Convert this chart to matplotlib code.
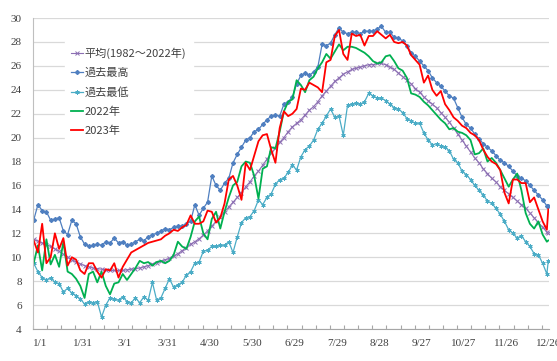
import matplotlib
matplotlib.use("Agg")
import matplotlib.pyplot as plt
from matplotlib.ticker import FixedLocator

# day index from 1/1 (every third day, plus the last day)
DAYS = list(range(0, 364, 3)) + [364]

AVG = [
    11.5, 11.35, 11.2, 11.05, 10.9, 10.7, 10.5, 10.25, 10.0, 9.8,
    9.6, 9.45, 9.3, 9.2, 9.1, 9.05, 9.0, 8.95, 8.9, 8.9,
    8.9, 8.9, 8.95, 9.0, 9.05, 9.1, 9.2, 9.3, 9.45, 9.55,
    9.65, 9.8, 9.9, 10.1, 10.3, 10.55, 10.8, 11.1, 11.3, 11.55,
    11.85, 12.2, 12.6, 13.0, 13.4, 13.8, 14.2, 14.6, 15.0, 15.4,
    15.9, 16.3, 16.8, 17.2, 17.7, 18.2, 18.7, 19.1, 19.6, 20.0,
    20.5, 20.9, 21.2, 21.5, 21.9, 22.3, 22.6, 23.0, 23.5, 23.9,
    24.3, 24.7, 25.0, 25.3, 25.5, 25.7, 25.8, 25.9, 26.0, 26.1,
    26.1, 26.2, 26.2, 26.1, 25.9, 25.7, 25.4, 25.1, 24.8, 24.5,
    24.1, 23.8, 23.4, 23.1, 22.8, 22.5, 22.1, 21.7, 21.3, 20.8,
    20.3, 19.8, 19.3, 18.8, 18.3, 17.9, 17.4, 17.0, 16.6, 16.3,
    15.9, 15.6, 15.3, 15.0, 14.7, 14.4, 14.1, 13.7, 13.3, 12.9,
    12.5, 12.1, 12.0,
]

MAX_PAST = [
    13.1, 14.4, 13.9, 13.8, 13.1, 13.2, 13.3, 12.2, 11.9, 13.1,
    12.8, 11.7, 11.1, 10.9, 11.0, 11.1, 11.0, 11.3, 11.2, 11.6,
    11.2, 11.3, 11.0, 11.1, 11.3, 11.5, 11.4, 11.7, 11.9, 12.0,
    12.2, 12.4, 12.3, 12.5, 12.6, 12.6, 12.8, 13.0, 14.4, 13.5,
    14.1, 14.6, 16.8, 16.0, 15.6, 16.2, 16.6, 17.9, 18.6, 19.2,
    19.8, 20.0, 20.5, 20.7, 21.1, 21.5, 21.8, 21.9, 21.8, 22.8,
    23.0, 23.4, 24.5, 25.2, 25.4, 25.2, 25.5, 25.9, 27.8, 27.7,
    27.9, 28.6, 29.2, 28.8, 28.7, 28.8, 28.8, 28.7, 28.9, 28.9,
    28.9, 29.1, 29.3, 28.8, 28.8, 28.4, 28.3, 28.1, 27.7, 27.1,
    26.8, 26.4, 26.0, 25.6, 25.0, 24.6, 24.3, 23.9, 23.5, 23.3,
    22.5, 21.7, 21.1, 20.8, 20.3, 19.9, 19.5, 19.2, 18.9, 18.5,
    18.1, 17.9, 17.6, 17.2, 16.8, 16.6, 16.4, 16.0, 15.6, 15.2,
    14.8, 14.3, 14.3,
]

MIN_PAST = [
    9.5, 8.8, 8.3, 8.1, 8.3, 7.9, 7.8, 7.1, 7.4, 7.0,
    6.8, 6.5, 6.1, 6.3, 6.2, 6.3, 5.0, 6.0, 6.6, 6.5,
    6.4, 6.7, 6.3, 6.2, 6.6, 6.2, 6.7, 6.4, 7.9, 6.4,
    6.6, 7.4, 8.2, 7.5, 7.7, 7.9, 8.5, 8.8, 9.5, 9.6,
    10.5, 10.6, 10.9, 10.9, 11.0, 11.0, 11.3, 10.4, 11.7, 12.9,
    13.3, 13.4, 13.9, 14.8, 14.4, 15.0, 15.3, 16.1, 16.5, 16.6,
    17.1, 17.7, 17.3, 18.4, 19.0, 19.3, 19.8, 20.7, 21.2, 21.8,
    22.4, 21.7, 21.8, 20.2, 22.7, 22.8, 22.9, 22.8, 23.0, 23.7,
    23.5, 23.3, 23.3, 23.1, 22.8, 22.5, 22.4, 22.1, 21.6, 21.4,
    21.2, 21.2, 20.4, 19.8, 19.4, 19.5, 19.3, 19.2, 18.9, 18.2,
    17.9, 17.2, 16.9, 16.5, 16.0, 15.6, 15.2, 14.7, 14.5, 14.1,
    13.6, 13.0, 12.3, 12.0, 11.6, 11.8, 11.3, 10.9, 10.3, 10.2,
    9.5, 8.6, 9.7,
]

Y2022 = [
    9.5, 11.0, 8.9, 11.5, 9.4, 10.2, 9.2, 11.3, 8.8, 8.6,
    8.2, 7.6, 6.6, 8.6, 8.8, 7.9, 8.8, 7.6, 6.9, 7.8,
    7.9, 8.6, 8.1, 8.6, 9.1, 9.7, 9.5, 9.6, 9.3, 9.6,
    9.7, 9.5, 9.7, 10.2, 11.3, 10.9, 10.7, 11.7, 13.0, 13.4,
    12.0, 11.5, 13.2, 13.8, 12.4, 13.8, 15.0, 16.0, 16.3, 17.6,
    18.0, 17.9, 16.8, 14.9, 17.4, 17.6, 19.2, 19.1, 20.5, 22.2,
    23.0, 23.2, 24.8, 24.4, 23.8, 24.8, 25.1, 25.8, 26.3, 27.0,
    26.6, 27.2, 27.8, 27.3, 27.6, 27.6, 27.5, 27.3, 27.1, 26.8,
    26.4, 26.2, 26.3, 26.8, 26.9, 26.4, 25.8, 25.6, 25.0, 23.7,
    23.6, 23.4, 23.0, 22.7, 22.3, 21.9, 21.5, 21.2, 20.7, 20.8,
    20.5, 20.4, 20.2, 19.8, 18.6, 18.7, 19.1, 18.0, 18.3, 17.9,
    17.3, 16.6, 15.9, 16.5, 17.0, 15.6, 13.7, 12.8, 12.4, 13.0,
    11.9, 11.3, 11.4,
]

Y2023 = [
    11.4, 10.4, 12.8, 9.5, 10.0, 12.0, 10.7, 11.6, 9.3, 10.0,
    9.8, 8.9, 8.6, 9.5, 9.5, 8.8, 8.3, 9.0, 8.9, 9.5,
    8.3, 9.2, 9.8, 10.4, 10.6, 10.8, 11.0, 11.2, 11.3, 11.4,
    11.5, 11.8, 12.0, 12.3, 12.2, 12.5, 12.7, 13.5, 12.8, 12.8,
    13.0, 13.9, 13.8, 12.9, 13.3, 14.5, 16.5, 16.8, 16.0, 14.8,
    17.9, 17.3, 18.5, 19.7, 20.2, 20.3, 19.0, 17.9, 20.8, 22.2,
    21.8, 22.0, 22.4, 24.1, 24.0, 24.6, 24.4, 24.2, 23.8, 26.3,
    26.5, 28.5, 29.0, 27.0, 26.5, 28.7, 28.5, 28.6, 27.7, 28.5,
    28.5, 28.9, 28.6, 28.3, 28.6, 28.0, 27.9, 28.0, 27.7, 26.9,
    26.5, 26.1, 24.6, 25.2, 24.0, 23.5, 23.9, 22.8, 22.3, 21.7,
    21.4, 21.0, 20.8, 20.4, 20.2, 19.8, 19.0, 18.4, 18.0, 17.8,
    17.3, 15.4, 14.5, 16.5, 16.5, 16.2, 16.2, 14.6, 15.0, 14.0,
    13.0, 12.3, 14.0,
]

TICK_LABELS = ["1/1", "1/31", "3/1", "3/31", "4/30", "5/30", "6/29",
               "7/29", "8/28", "9/27", "10/27", "11/26", "12/26"]

JP_FONT = ["Noto Sans CJK JP", "DejaVu Sans"]
NUM_FONT = "Liberation Serif"


def plot_temps():
    fig = plt.figure(figsize=(5.57, 3.61), dpi=100)
    ax = fig.add_axes([0.0592, 0.0886, 0.9264, 0.8614])

    ax.plot(DAYS, AVG, color="#8c6fb3", lw=0.8, marker="x", ms=2.4, mew=0.7,
            label="平均(1982～2022年)")
    ax.plot(DAYS, MAX_PAST, color="#4f7fc0", lw=0.9, marker="D", ms=2.0,
            label="過去最高")
    ax.plot(DAYS, MIN_PAST, color="#4bacc6", lw=0.9, marker=(6, 2, 0), ms=3.0,
            mew=0.7, label="過去最低")
    ax.plot(DAYS, Y2022, color="#00b050", lw=1.3, label="2022年")
    ax.plot(DAYS, Y2023, color="#ff0000", lw=1.3, label="2023年")

    ax.set_xlim(-0.5, 364.5)
    ax.set_ylim(4, 30)
    ax.set_yticks(range(4, 31, 2))

    # labels sit in the middle of the 10-day tick interval, like the spreadsheet axis
    ax.xaxis.set_major_locator(FixedLocator([4.5 + 30 * i for i in range(13)]))
    ax.set_xticklabels(TICK_LABELS)
    ax.xaxis.set_minor_locator(FixedLocator([-0.5 + 10 * i for i in range(37)]))
    ax.tick_params(axis="x", which="major", length=0, pad=7)
    ax.tick_params(axis="x", which="minor", length=3, direction="in",
                   color="#a6a6a6", width=0.8)
    ax.tick_params(axis="y", length=0, pad=8)
    for lbl in ax.get_xticklabels() + ax.get_yticklabels():
        lbl.set_fontfamily(NUM_FONT)
        lbl.set_fontsize(8)
        lbl.set_color("#404040")

    ax.grid(axis="y", color="#d9d9d9", lw=0.9)
    ax.set_axisbelow(True)
    for side in ("top", "right"):
        ax.spines[side].set_visible(False)
    ax.spines["left"].set_color("#bfbfbf")
    ax.spines["bottom"].set_color("#a6a6a6")
    ax.spines["left"].set_linewidth(0.8)
    ax.spines["bottom"].set_linewidth(0.8)

    leg = ax.legend(loc="upper left", bbox_to_anchor=(0.062, 0.925),
                    borderaxespad=0, frameon=True, fancybox=False,
                    handlelength=1.1, handletextpad=0.15, labelspacing=0.8,
                    borderpad=0.55, prop={"family": JP_FONT, "size": 8})
    leg.get_frame().set_facecolor("white")
    leg.get_frame().set_edgecolor("white")
    leg.get_frame().set_alpha(1)
    for t in leg.get_texts():
        t.set_color("#404040")

    fig.savefig("out.png", dpi=100)


if __name__ == "__main__":
    plot_temps()
